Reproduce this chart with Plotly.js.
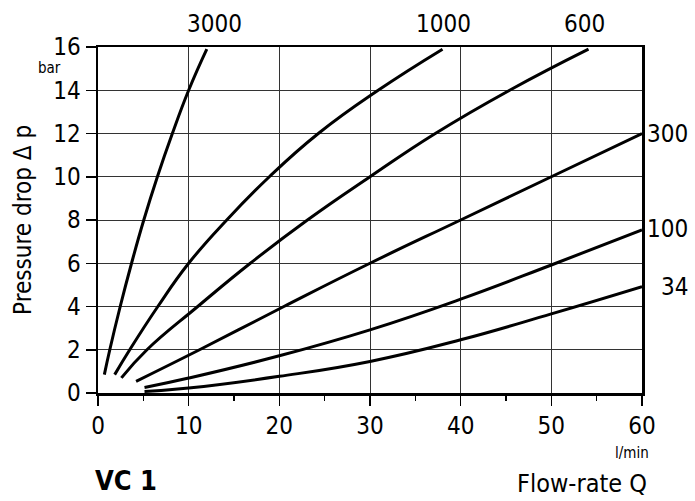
<!DOCTYPE html>
<html>
<head>
<meta charset="utf-8">
<script src="https://cdn.plot.ly/plotly-3.0.1.min.js"></script>
<style>html,body{margin:0;padding:0;background:#fff;}#chart{width:695px;height:501px;}</style>
</head>
<body>
<div id="chart"></div>
<script>
// Flow-rate Q (l/min) vs pressure drop (bar) for several viscosities
const q3000 = [0.7, 1.3, 2.45, 3.7, 5.05, 6.55, 8.2, 10.0, 12.0];
const p3000 = [0.85, 2, 4, 6, 8, 10, 12, 14, 15.9];
const q1000 = [1.84, 3.5, 6.6, 10.0, 14.2, 18.9, 24.3, 30.9, 38.0];
const p1000 = [0.85, 2, 4, 6, 8, 10, 12, 14, 15.9];
const q600 = [2.58, 5.4, 11.0, 16.8, 23.1, 30.0, 37.2, 45.4, 54.1];
const p600 = [0.7, 2, 4, 6, 8, 10, 12, 14, 15.9];
const q300 = [4.2, 11.2, 20.5, 30, 40, 50, 60];
const p300 = [0.54, 2, 4, 6, 8, 10, 12];
const q100 = [5.13, 10, 20, 30, 40, 50, 60];
const p100 = [0.25, 0.69, 1.72, 2.92, 4.34, 5.92, 7.54];
const q34 = [5.13, 10, 20, 30, 40, 50, 60];
const p34 = [0.07, 0.23, 0.77, 1.46, 2.46, 3.66, 4.92];

const topLabels = ["3000", "1000", "600"];
const topLabelX = [12.8, 38.1, 53.7];
const rightLabels = ["300", "100", "34"];
const rightLabelY = [12.0, 7.6, 4.9];

const FONT = "'DejaVu Sans Condensed', 'Liberation Sans', sans-serif";

const series = [[q3000,p3000],[q1000,p1000],[q600,p600],[q300,p300],[q100,p100],[q34,p34]];
const traces = series.map(s => ({
  x: s[0], y: s[1], type: 'scatter', mode: 'lines',
  line: {color: '#000', width: 3, shape: 'spline', smoothing: 1.3},
  hoverinfo: 'skip', showlegend: false
}));

const annotations = [];
topLabels.forEach((t, i) => annotations.push({
  text: t, xref: 'x', yref: 'paper', x: topLabelX[i], y: 1.066,
  xanchor: 'center', yanchor: 'middle', showarrow: false,
  font: {family: FONT, size: 24, color: '#000'}
}));
rightLabels.forEach((t, i) => annotations.push({
  text: t, xref: 'paper', yref: 'y', x: 1.088, y: rightLabelY[i],
  xanchor: 'right', yanchor: 'middle', showarrow: false,
  font: {family: FONT, size: 24, color: '#000'}
}));
annotations.push({text: 'Pressure drop Δ p', xref: 'paper', yref: 'paper', x: -0.138, y: 0.5,
  textangle: -90, xanchor: 'center', yanchor: 'middle', showarrow: false,
  font: {family: FONT, size: 24, color: '#000'}});
annotations.push({text: 'bar', xref: 'paper', yref: 'paper', x: -0.09, y: 0.939,
  xanchor: 'center', yanchor: 'middle', showarrow: false,
  font: {family: FONT, size: 15, color: '#000'}});
annotations.push({text: 'l/min', xref: 'paper', yref: 'paper', x: 0.981, y: -0.173,
  xanchor: 'center', yanchor: 'middle', showarrow: false,
  font: {family: FONT, size: 15, color: '#000'}});
annotations.push({text: 'Flow-rate Q', xref: 'paper', yref: 'paper', x: 1.012, y: -0.263,
  xanchor: 'right', yanchor: 'middle', showarrow: false,
  font: {family: FONT, size: 25, color: '#000'}});
annotations.push({text: '<b>VC 1</b>', xref: 'paper', yref: 'paper', x: -0.01, y: -0.254,
  xanchor: 'left', yanchor: 'middle', showarrow: false,
  font: {family: FONT, size: 27, color: '#000'}});

const layout = {
  width: 695, height: 501,
  margin: {l: 98, r: 53, t: 47, b: 108, pad: 0},
  paper_bgcolor: '#fff', plot_bgcolor: '#fff',
  font: {family: FONT, size: 24, color: '#000'},
  xaxis: {
    range: [0, 60], dtick: 10, tick0: 0, ticks: 'outside', ticklen: 10, tickwidth: 1.5, tickcolor: '#000',
    showgrid: true, gridcolor: '#333', gridwidth: 1, zeroline: false,
    showline: true, linecolor: '#000', linewidth: 2.5, mirror: true,
    minor: {dtick: 5, ticks: 'outside', ticklen: 5, tickwidth: 1.5, tickcolor: '#000', showgrid: false},
    tickfont: {family: FONT, size: 24, color: '#000'}, fixedrange: true
  },
  yaxis: {
    range: [0, 16], dtick: 2, tick0: 0, ticks: 'outside', ticklen: 10, tickwidth: 1.5, tickcolor: '#000',
    showgrid: true, gridcolor: '#333', gridwidth: 1, zeroline: false,
    showline: true, linecolor: '#000', linewidth: 2.5, mirror: true,
    tickfont: {family: FONT, size: 24, color: '#000'}, fixedrange: true
  },
  annotations: annotations
};

Plotly.newPlot('chart', traces, layout, {displayModeBar: false, staticPlot: true});
</script>
</body>
</html>
